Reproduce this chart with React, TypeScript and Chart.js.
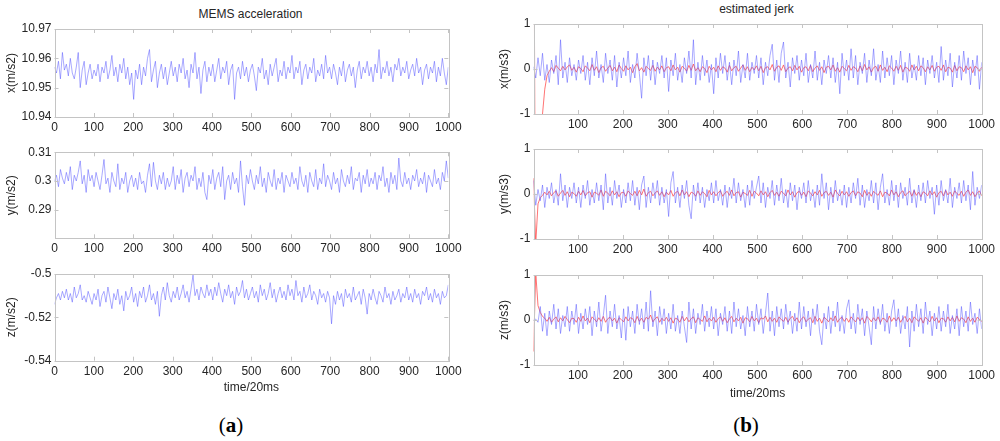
import React, { useEffect, useRef } from "react";
import { Chart, registerables } from "chart.js";
Chart.register(...registerables);

// ---------- data (sampled every ~5 steps of time/20ms) ----------
const accelX = [
  10.957, 10.955, 10.959, 10.953, 10.962, 10.956, 10.958, 10.954, 10.960, 10.955, 10.953, 10.957, 10.962, 10.950, 10.956, 10.959, 10.951, 10.955, 10.958, 10.953,
  10.956, 10.954, 10.958, 10.952, 10.957, 10.955, 10.959, 10.953, 10.956, 10.961, 10.954, 10.957, 10.952, 10.958, 10.955, 10.960, 10.953, 10.957, 10.951, 10.955,
  10.946, 10.956, 10.953, 10.958, 10.951, 10.957, 10.954, 10.960, 10.963, 10.952, 10.956, 10.959, 10.950, 10.955, 10.958, 10.953, 10.957, 10.951, 10.955, 10.959,
  10.954, 10.957, 10.952, 10.958, 10.955, 10.960, 10.953, 10.956, 10.950, 10.958, 10.955, 10.962, 10.953, 10.957, 10.948, 10.956, 10.959, 10.952, 10.957, 10.954,
  10.958, 10.952, 10.956, 10.960, 10.953, 10.957, 10.955, 10.959, 10.951, 10.956, 10.958, 10.946, 10.955, 10.957, 10.953, 10.959, 10.954, 10.957, 10.952, 10.956,
  10.958, 10.954, 10.949, 10.957, 10.955, 10.960, 10.953, 10.956, 10.951, 10.958, 10.954, 10.957, 10.960, 10.952, 10.956, 10.954, 10.959, 10.953, 10.957, 10.955,
  10.961, 10.953, 10.957, 10.955, 10.959, 10.951, 10.956, 10.958, 10.953, 10.957, 10.955, 10.960, 10.952, 10.956, 10.954, 10.958, 10.953, 10.961, 10.955, 10.957,
  10.953, 10.958, 10.955, 10.951, 10.957, 10.954, 10.959, 10.952, 10.956, 10.958, 10.954, 10.957, 10.950, 10.956, 10.959, 10.953, 10.957, 10.955, 10.959, 10.954,
  10.957, 10.952, 10.958, 10.955, 10.963, 10.953, 10.957, 10.955, 10.959, 10.954, 10.957, 10.952, 10.958, 10.956, 10.960, 10.954, 10.957, 10.955, 10.959, 10.953,
  10.956, 10.958, 10.954, 10.960, 10.955, 10.957, 10.951, 10.956, 10.958, 10.953, 10.957, 10.955, 10.959, 10.952, 10.957, 10.954, 10.960, 10.955, 10.951, 10.957,
];
const accelY = [
  0.300, 0.302, 0.298, 0.304, 0.301, 0.299, 0.303, 0.300, 0.305, 0.297, 0.302, 0.300, 0.303, 0.307, 0.299, 0.302, 0.296, 0.304, 0.300, 0.302,
  0.298, 0.303, 0.300, 0.297, 0.302, 0.3075, 0.299, 0.301, 0.296, 0.303, 0.300, 0.298, 0.306, 0.297, 0.301, 0.299, 0.303, 0.296, 0.300, 0.302,
  0.298, 0.301, 0.297, 0.303, 0.299, 0.300, 0.296, 0.302, 0.306, 0.298, 0.3065, 0.300, 0.297, 0.302, 0.299, 0.303, 0.297, 0.301, 0.298, 0.300,
  0.305, 0.297, 0.302, 0.299, 0.304, 0.296, 0.301, 0.303, 0.298, 0.302, 0.300, 0.305, 0.297, 0.301, 0.298, 0.303, 0.296, 0.2935, 0.302, 0.299,
  0.304, 0.297, 0.301, 0.303, 0.298, 0.305, 0.2935, 0.300, 0.302, 0.297, 0.303, 0.299, 0.301, 0.296, 0.307, 0.298, 0.2915, 0.302, 0.299, 0.304,
  0.300, 0.297, 0.302, 0.299, 0.305, 0.298, 0.301, 0.296, 0.303, 0.300, 0.298, 0.304, 0.297, 0.301, 0.299, 0.303, 0.296, 0.302, 0.300, 0.298,
  0.303, 0.299, 0.301, 0.297, 0.305, 0.300, 0.298, 0.302, 0.296, 0.303, 0.300, 0.298, 0.304, 0.297, 0.301, 0.299, 0.306, 0.298, 0.302, 0.300,
  0.297, 0.303, 0.299, 0.301, 0.296, 0.304, 0.300, 0.298, 0.302, 0.299, 0.305, 0.297, 0.301, 0.300, 0.303, 0.296, 0.302, 0.299, 0.304, 0.298,
  0.301, 0.299, 0.303, 0.297, 0.302, 0.300, 0.305, 0.298, 0.301, 0.296, 0.303, 0.299, 0.302, 0.297, 0.308, 0.300, 0.298, 0.303, 0.299, 0.301,
  0.297, 0.302, 0.300, 0.304, 0.298, 0.301, 0.299, 0.303, 0.296, 0.302, 0.300, 0.298, 0.304, 0.299, 0.301, 0.297, 0.303, 0.300, 0.307, 0.301,
];
const accelZ = [
  -0.514, -0.511, -0.509, -0.512, -0.508, -0.511, -0.507, -0.512, -0.509, -0.513, -0.506, -0.511, -0.509, -0.505, -0.512, -0.510, -0.513, -0.508, -0.511, -0.514,
  -0.509, -0.512, -0.507, -0.515, -0.510, -0.508, -0.513, -0.506, -0.511, -0.516, -0.509, -0.512, -0.507, -0.514, -0.510, -0.517, -0.508, -0.512, -0.510, -0.506,
  -0.513, -0.509, -0.515, -0.508, -0.511, -0.506, -0.513, -0.510, -0.505, -0.512, -0.509, -0.514, -0.508, -0.5195, -0.510, -0.506, -0.512, -0.504, -0.510, -0.513,
  -0.508, -0.511, -0.506, -0.512, -0.509, -0.505, -0.511, -0.508, -0.513, -0.507, -0.5005, -0.510, -0.507, -0.512, -0.506, -0.509, -0.511, -0.505, -0.510, -0.507,
  -0.512, -0.506, -0.510, -0.504, -0.509, -0.513, -0.507, -0.510, -0.505, -0.511, -0.508, -0.514, -0.506, -0.510, -0.508, -0.503, -0.511, -0.507, -0.512, -0.509,
  -0.506, -0.511, -0.508, -0.513, -0.505, -0.510, -0.507, -0.512, -0.509, -0.504, -0.511, -0.507, -0.513, -0.509, -0.506, -0.511, -0.508, -0.512, -0.505, -0.510,
  -0.507, -0.512, -0.503, -0.510, -0.508, -0.513, -0.506, -0.511, -0.509, -0.505, -0.512, -0.508, -0.510, -0.514, -0.507, -0.511, -0.509, -0.513, -0.508, -0.511,
  -0.523, -0.510, -0.514, -0.508, -0.512, -0.509, -0.515, -0.507, -0.511, -0.509, -0.513, -0.506, -0.512, -0.510, -0.508, -0.514, -0.507, -0.511, -0.5185, -0.509,
  -0.512, -0.507, -0.511, -0.514, -0.508, -0.510, -0.513, -0.506, -0.511, -0.509, -0.514, -0.508, -0.512, -0.510, -0.507, -0.513, -0.509, -0.511, -0.506, -0.512,
  -0.509, -0.513, -0.507, -0.511, -0.509, -0.514, -0.508, -0.510, -0.506, -0.512, -0.509, -0.513, -0.507, -0.511, -0.509, -0.514, -0.508, -0.511, -0.510, -0.505,
];
const jerkXBlue = [
  0.05, -0.20, 0.25, -0.15, 0.35, -0.25, 0.10, -0.30, 0.20, -0.10, 0.30, -0.35, 0.65, -0.20, 0.15, -0.30, 0.25, -0.15, 0.10, -0.25,
  0.20, -0.10, 0.30, -0.25, 0.15, -0.35, 0.25, -0.15, 0.40, -0.20, 0.10, -0.30, 0.35, -0.10, 0.20, -0.25, 0.30, -0.40, 0.15, -0.20,
  0.25, -0.15, 0.40, -0.30, 0.10, -0.20, 0.35, -0.10, -0.65, 0.25, -0.15, 0.30, -0.25, 0.20, -0.35, 0.15, -0.10, 0.30, -0.20, 0.25,
  -0.50, 0.20, -0.15, 0.35, -0.25, 0.10, -0.30, 0.25, -0.10, 0.40, -0.20, 0.65, -0.35, 0.15, -0.25, 0.30, -0.15, 0.20, -0.30, 0.10,
  -0.55, 0.25, -0.20, 0.35, -0.10, 0.30, -0.25, 0.15, -0.35, 0.20, -0.15, 0.40, -0.30, 0.10, -0.20, 0.35, -0.25, 0.15, -0.10, 0.30,
  -0.20, 0.25, -0.35, 0.15, -0.15, 0.30, 0.55, -0.25, 0.20, -0.30, 0.35, 0.60, -0.20, 0.15, -0.40, 0.25, -0.10, 0.30, -0.25, 0.20,
  -0.15, 0.35, -0.30, 0.10, -0.20, 0.40, -0.25, 0.15, -0.35, 0.20, -0.10, 0.30, -0.20, 0.25, -0.30, 0.15, -0.55, 0.35, -0.15, 0.20,
  -0.25, 0.45, -0.20, 0.30, -0.35, 0.15, -0.10, 0.35, -0.30, 0.20, -0.15, 0.45, -0.25, 0.10, -0.30, 0.40, -0.20, 0.25, -0.15, 0.30,
  -0.35, 0.20, -0.10, 0.40, -0.25, 0.15, -0.30, 0.35, -0.20, 0.10, -0.25, 0.30, -0.15, 0.25, -0.35, 0.20, -0.10, 0.30, -0.20, 0.15,
  -0.30, 0.50, -0.25, 0.20, -0.15, 0.35, -0.40, 0.15, -0.20, 0.30, -0.25, 0.40, -0.10, 0.25, -0.35, 0.20, -0.15, 0.30, -0.45, 0.15,
];
const jerkXRed = [
  6, -6, -4, -2, -1.0, -0.45, -0.15, -0.05, 0.03, -0.06, 0.08, 0.02, -0.04, 0.06, -0.02, 0.05, 0.09, -0.03, 0.04, -0.07,
  0.05, 0.01, -0.06, 0.07, 0.02, -0.04, 0.10, -0.03, 0.05, -0.08, 0.03, 0.06, -0.05, 0.02, 0.08, -0.04, 0.04, -0.06, 0.09, 0.01,
  -0.05, 0.07, -0.02, 0.04, -0.08, 0.05, 0.12, -0.04, 0.03, -0.07, 0.06, 0.01, -0.03, 0.08, -0.05, 0.04, -0.02, 0.07, -0.06, 0.03,
  0.05, -0.04, 0.09, -0.02, 0.04, -0.07, 0.06, 0.02, -0.05, 0.08, -0.03, 0.11, -0.04, 0.03, -0.06, 0.05, 0.01, -0.08, 0.06, -0.02,
  0.04, -0.06, 0.07, -0.03, 0.05, 0.02, -0.07, 0.08, -0.04, 0.03, 0.06, -0.05, 0.02, 0.09, -0.03, 0.05, -0.06, 0.04, -0.02, 0.07,
  -0.04, 0.06, -0.08, 0.03, 0.05, -0.02, 0.10, -0.05, 0.04, 0.07, -0.03, 0.09, -0.06, 0.02, 0.05, -0.04, 0.08, -0.02, 0.06, -0.07,
  0.03, 0.05, -0.04, 0.08, -0.06, 0.02, 0.07, -0.03, 0.05, -0.08, 0.04, 0.06, -0.02, 0.09, -0.05, 0.03, -0.07, 0.06, 0.01, -0.04,
  0.08, -0.03, 0.05, 0.02, -0.06, 0.07, -0.04, 0.10, -0.02, 0.05, -0.07, 0.03, 0.06, -0.05, 0.09, -0.03, 0.04, -0.06, 0.07, 0.02,
  -0.05, 0.06, -0.03, 0.08, -0.07, 0.04, 0.02, -0.05, 0.09, -0.02, 0.06, -0.04, 0.07, 0.03, -0.06, 0.05, -0.02, 0.08, -0.05, 0.04,
  0.06, -0.03, 0.09, -0.06, 0.04, 0.02, -0.07, 0.08, -0.04, 0.05, 0.03, -0.06, 0.07, -0.02, 0.05, -0.08, 0.06, 0.03, -0.05, 0.04,
];
const jerkYBlue = [
  0.30, -0.25, 0.10, -0.15, 0.20, -0.30, 0.15, -0.10, 0.25, -0.20, 0.10, -0.25, 0.45, -0.15, 0.20, -0.30, 0.15, -0.10, 0.25, -0.20,
  0.15, -0.30, 0.20, -0.10, 0.30, -0.25, 0.10, -0.20, 0.25, -0.15, 0.20, -0.35, 0.45, -0.20, 0.15, -0.25, 0.30, -0.10, 0.20, -0.30,
  0.10, -0.20, 0.25, -0.15, 0.30, -0.25, 0.15, -0.35, 0.20, 0.40, -0.30, 0.15, -0.20, 0.25, -0.10, 0.30, -0.25, 0.15, -0.20, 0.10,
  -0.50, 0.25, 0.50, -0.20, 0.15, -0.30, 0.20, -0.10, 0.30, -0.25, -0.55, 0.20, -0.15, 0.25, -0.20, 0.15, -0.30, 0.10, -0.15, 0.25,
  -0.20, 0.30, -0.15, 0.10, -0.25, 0.20, -0.30, 0.15, -0.10, 0.35, -0.20, 0.25, -0.15, 0.10, -0.30, 0.20, -0.25, 0.30, -0.10, 0.15,
  0.40, -0.20, 0.25, -0.30, 0.15, -0.10, 0.30, -0.25, 0.20, -0.15, 0.35, -0.20, 0.10, -0.30, 0.25, -0.15, 0.20, -0.35, 0.15, -0.10,
  0.25, -0.20, 0.30, -0.15, 0.10, -0.30, 0.20, -0.25, 0.45, -0.10, 0.25, -0.35, 0.15, -0.20, 0.30, -0.15, 0.10, -0.25, 0.20, -0.30,
  0.15, -0.20, 0.25, -0.10, 0.35, -0.25, 0.20, -0.30, 0.10, -0.15, 0.30, -0.20, 0.25, -0.35, 0.15, 0.45, -0.20, 0.10, -0.25, 0.30,
  -0.15, 0.20, -0.30, 0.25, -0.10, 0.15, -0.25, 0.35, -0.20, 0.10, -0.30, 0.20, -0.15, 0.25, -0.20, 0.30, -0.10, 0.15, -0.45, 0.20,
  -0.25, 0.30, -0.15, 0.10, -0.20, 0.35, -0.30, 0.15, -0.10, 0.25, -0.20, 0.30, -0.15, 0.20, -0.35, 0.50, -0.25, 0.15, -0.10, 0.20,
];
const jerkYRed = [
  0.35, -1.1, -0.22, -0.08, -0.03, 0.04, -0.02, 0.06, -0.04, 0.03, 0.07, -0.05, 0.02, 0.08, -0.03, 0.05, -0.06, 0.04, 0.01, -0.05,
  0.06, -0.02, 0.08, -0.04, 0.03, 0.05, -0.07, 0.04, 0.02, -0.03, 0.09, -0.05, 0.06, 0.02, -0.04, 0.07, -0.02, 0.05, -0.06, 0.03,
  0.04, -0.05, 0.07, 0.01, -0.03, 0.06, -0.04, 0.08, -0.02, 0.11, -0.05, 0.03, 0.06, -0.04, 0.02, 0.07, -0.03, 0.05, -0.06, 0.04,
  -0.02, 0.08, -0.05, 0.03, 0.06, -0.04, 0.09, -0.02, 0.05, -0.06, 0.04, 0.02, -0.05, 0.07, -0.03, 0.05, 0.01, -0.06, 0.08, -0.02,
  0.05, -0.04, 0.03, 0.07, -0.05, 0.02, 0.06, -0.03, 0.09, -0.04, 0.03, 0.05, -0.07, 0.04, 0.01, -0.03, 0.08, -0.05, 0.06, 0.02,
  -0.04, 0.07, -0.02, 0.05, -0.06, 0.03, 0.08, -0.03, 0.04, -0.05, 0.06, 0.02, -0.04, 0.09, -0.02, 0.05, -0.07, 0.03, 0.06, -0.03,
  0.04, -0.06, 0.07, 0.02, -0.04, 0.05, -0.02, 0.08, -0.05, 0.03, 0.06, -0.03, 0.04, -0.07, 0.09, 0.01, -0.04, 0.06, -0.02, 0.05,
  -0.05, 0.03, 0.07, -0.04, 0.05, 0.02, -0.06, 0.08, -0.03, 0.04, -0.05, 0.06, 0.01, -0.03, 0.07, -0.06, 0.04, 0.02, -0.04, 0.09,
  -0.02, 0.05, -0.06, 0.03, 0.07, -0.04, 0.02, 0.06, -0.05, 0.08, -0.03, 0.04, -0.06, 0.05, 0.02, -0.04, 0.07, -0.02, 0.05, -0.07,
  0.03, 0.06, -0.04, 0.08, -0.02, 0.04, -0.05, 0.07, 0.01, -0.03, 0.06, -0.05, 0.04, 0.09, -0.03, 0.05, -0.06, 0.02, 0.07, -0.04,
];
const jerkZBlue = [
  0.0, 0.02, -0.05, 0.30, -0.25, 0.15, -0.35, 0.20, -0.10, 0.35, -0.20, 0.25, -0.30, 0.10, -0.15, 0.30, -0.25, 0.20, -0.10, 0.35,
  -0.30, 0.15, -0.20, 0.25, -0.10, 0.30, -0.35, 0.20, -0.15, 0.40, -0.25, 0.10, 0.55, -0.30, 0.20, -0.15, 0.35, -0.20, 0.10, -0.40,
  0.25, -0.45, 0.30, -0.15, 0.20, -0.30, 0.35, -0.10, 0.25, -0.20, 0.40, -0.25, 0.65, -0.15, 0.20, -0.35, 0.30, -0.10, 0.25, -0.30,
  0.15, -0.20, 0.35, -0.25, 0.10, -0.30, 0.20, -0.15, -0.50, 0.40, -0.20, 0.25, -0.30, 0.15, -0.10, 0.35, -0.25, 0.20, -0.15, 0.30,
  -0.20, 0.25, -0.35, 0.15, -0.10, 0.30, -0.25, 0.20, -0.30, 0.40, -0.15, 0.25, -0.20, 0.10, -0.35, 0.30, -0.15, 0.20, -0.25, 0.35,
  -0.10, 0.25, -0.30, 0.15, 0.60, -0.25, 0.20, -0.35, 0.30, -0.15, 0.25, -0.20, 0.35, -0.10, 0.20, -0.30, 0.15, -0.25, 0.40, -0.20,
  0.30, -0.15, 0.20, -0.35, 0.25, -0.10, 0.35, -0.25, -0.55, 0.15, -0.20, 0.30, -0.30, 0.20, -0.15, 0.40, -0.25, 0.10, -0.30, 0.25,
  0.45, -0.20, 0.15, -0.30, 0.35, -0.10, 0.25, -0.35, 0.20, -0.15, -0.55, 0.30, -0.20, 0.25, -0.10, 0.35, -0.25, 0.15, -0.30, 0.20,
  0.45, -0.15, 0.25, -0.30, 0.10, -0.20, 0.30, -0.60, 0.20, -0.25, 0.35, -0.15, 0.25, -0.30, 0.40, -0.10, 0.20, -0.35, 0.15, -0.20,
  0.30, -0.25, 0.20, -0.15, 0.35, -0.30, 0.10, -0.20, 0.25, -0.35, 0.30, -0.15, 0.20, -0.25, 0.40, -0.10, 0.15, -0.30, 0.25, -0.20,
];
const jerkZRed = [
  -0.7, 1.05, 0.32, 0.17, 0.08, 0.04, -0.03, 0.06, -0.05, 0.02, 0.07, -0.04, 0.05, -0.02, 0.08, 0.01, -0.06, 0.04, 0.03, -0.05,
  0.06, -0.03, 0.09, -0.02, 0.04, -0.06, 0.07, 0.02, -0.04, 0.05, -0.03, 0.08, -0.05, 0.03, 0.06, -0.02, 0.04, -0.07, 0.05, 0.01,
  -0.04, 0.07, -0.02, 0.05, 0.03, -0.06, 0.08, -0.03, 0.04, -0.05, 0.06, 0.02, 0.11, -0.04, 0.03, 0.07, -0.05, 0.04, -0.02, 0.06,
  -0.03, 0.05, -0.07, 0.04, 0.02, -0.05, 0.08, -0.02, 0.06, -0.04, 0.03, 0.07, -0.06, 0.05, 0.01, -0.03, 0.09, -0.04, 0.04, -0.02,
  0.06, -0.05, 0.03, 0.07, -0.03, 0.05, -0.06, 0.02, 0.08, -0.04, 0.04, -0.02, 0.06, -0.07, 0.05, 0.03, -0.04, 0.08, -0.02, 0.04,
  -0.06, 0.05, 0.02, 0.09, -0.04, 0.06, -0.03, 0.04, -0.05, 0.07, 0.01, -0.03, 0.06, -0.05, 0.04, 0.08, -0.02, 0.05, -0.06, 0.03,
  0.07, -0.04, 0.02, 0.05, -0.06, 0.08, -0.03, 0.04, -0.07, 0.06, 0.02, -0.04, 0.05, -0.02, 0.09, -0.05, 0.03, 0.06, -0.03, 0.04,
  -0.05, 0.07, 0.01, -0.04, 0.06, -0.02, 0.05, -0.07, 0.08, 0.03, -0.04, 0.05, -0.02, 0.07, -0.06, 0.04, 0.02, -0.05, 0.09, -0.03,
  0.05, -0.02, 0.06, -0.05, 0.03, 0.08, -0.04, 0.04, -0.06, 0.07, 0.02, -0.03, 0.05, -0.07, 0.06, 0.01, -0.04, 0.08, -0.02, 0.05,
  -0.06, 0.04, 0.03, -0.05, 0.07, -0.02, 0.06, -0.04, 0.09, -0.03, 0.05, 0.02, -0.06, 0.07, -0.03, 0.04, -0.05, 0.06, 0.02, -0.04,
];

// ---------- tick labels ----------
const accelTimeTicks = [0, 100, 200, 300, 400, 500, 600, 700, 800, 900, 1000];
const jerkTimeTicks = [100, 200, 300, 400, 500, 600, 700, 800, 900, 1000];
const accelXTicks = [10.94, 10.95, 10.96, 10.97];
const accelYTicks = [0.29, 0.3, 0.31];
const accelZTicks = [-0.54, -0.52, -0.5];
const jerkTicks = [-1, 0, 1];

const FONT = "'Liberation Sans', Arial, Helvetica, sans-serif";
const TEXT = "#262626";
const FRAME = "#c4c4c4";
const BLUE = "rgba(85,85,255,0.72)";
const RED = "rgba(255,70,70,0.75)";

type Series = { values: number[]; color: string; width: number };
type Panel = {
  key: string;
  canvasLeft: number; canvasTop: number; canvasW: number; canvasH: number;
  plotLeft: number; plotTop: number; plotRight: number; plotBottom: number;
  tStart: number; tEnd: number;
  xMin: number; xMax: number; xTicks: number[];
  yMin: number; yMax: number; yTicks: number[];
  yTitle: string; xTitle?: string;
  series: Series[];
};

const framePlugin = {
  id: "matlabFrame",
  afterDatasetsDraw(chart: any) {
    const { ctx, chartArea: a, scales } = chart;
    const xs = scales.x, ys = scales.y;
    const L = 4;
    ctx.save();
    ctx.strokeStyle = FRAME;
    ctx.lineWidth = 1;
    ctx.beginPath();
    xs.ticks.forEach((t: any) => {
      const p = Math.round(xs.getPixelForValue(t.value)) + 0.5;
      ctx.moveTo(p, a.bottom); ctx.lineTo(p, a.bottom - L);
      ctx.moveTo(p, a.top); ctx.lineTo(p, a.top + L);
    });
    ys.ticks.forEach((t: any) => {
      const p = Math.round(ys.getPixelForValue(t.value)) + 0.5;
      ctx.moveTo(a.left, p); ctx.lineTo(a.left + L, p);
      ctx.moveTo(a.right, p); ctx.lineTo(a.right - L, p);
    });
    ctx.stroke();
    ctx.strokeRect(Math.round(a.left) + 0.5, Math.round(a.top) + 0.5, Math.round(a.right - a.left), Math.round(a.bottom - a.top));
    ctx.restore();
  },
};

function toPoints(values: number[], t0: number, t1: number) {
  const n = values.length;
  return values.map((v, i) => ({ x: t0 + (i * (t1 - t0)) / (n - 1), y: v }));
}

function PanelChart({ p }: { p: Panel }) {
  const ref = useRef<HTMLCanvasElement>(null);
  useEffect(() => {
    const yW = p.plotLeft - p.canvasLeft;
    const xH = p.canvasTop + p.canvasH - p.plotBottom;
    const chart = new Chart(ref.current!, {
      type: "line",
      data: {
        datasets: p.series.map((s) => ({
          data: toPoints(s.values, p.tStart, p.tEnd),
          borderColor: s.color,
          borderWidth: s.width,
          pointRadius: 0,
          tension: 0,
          fill: false,
        })),
      },
      options: {
        animation: false,
        responsive: false,
        maintainAspectRatio: false,
        parsing: false as any,
        events: [],
        layout: {
          padding: {
            left: 0,
            top: p.plotTop - p.canvasTop,
            right: p.canvasLeft + p.canvasW - p.plotRight,
            bottom: 0,
          },
        },
        plugins: { legend: { display: false }, tooltip: { enabled: false }, title: { display: false } },
        scales: {
          x: {
            type: "linear",
            min: p.xMin,
            max: p.xMax,
            grid: { display: false, drawTicks: false },
            border: { display: false },
            afterBuildTicks: (sc: any) => { sc.ticks = p.xTicks.map((v) => ({ value: v })); },
            afterFit: (sc: any) => { sc.height = xH; },
            ticks: {
              autoSkip: false, maxRotation: 0, padding: 3.5, color: TEXT,
              font: { family: FONT, size: 12 },
              callback: (v: any) => String(v),
            },
            title: {
              display: !!p.xTitle, text: p.xTitle || "", color: TEXT,
              font: { family: FONT, size: 12 }, padding: { top: 4, bottom: 4 },
            },
          },
          y: {
            type: "linear",
            min: p.yMin,
            max: p.yMax,
            grid: { display: false, drawTicks: false },
            border: { display: false },
            afterBuildTicks: (sc: any) => { sc.ticks = p.yTicks.map((v) => ({ value: v })); },
            afterFit: (sc: any) => { sc.width = yW; },
            ticks: {
              padding: 3, color: TEXT,
              font: { family: FONT, size: 12 },
              callback: (v: any) => String(v),
            },
            title: {
              display: true, text: p.yTitle, color: TEXT,
              font: { family: FONT, size: 12 }, padding: { top: 4, bottom: 4 },
            },
          },
        },
      },
      plugins: [framePlugin],
    } as any);
    return () => chart.destroy();
  }, [p]);
  return (
    <canvas
      ref={ref}
      width={p.canvasW}
      height={p.canvasH}
      style={{ position: "absolute", left: p.canvasLeft, top: p.canvasTop, width: p.canvasW, height: p.canvasH }}
    />
  );
}

const L = { canvasLeft: 0, canvasW: 470, plotLeft: 54.5, plotRight: 448.3, tStart: 0, tEnd: 1000, xMin: 0, xMax: 1000, xTicks: accelTimeTicks };
const R = { canvasLeft: 493, canvasW: 507, plotLeft: 533.5, plotRight: 981.7, tStart: 1, tEnd: 1000, xMin: 1, xMax: 1000, xTicks: jerkTimeTicks, yMin: -1, yMax: 1, yTicks: jerkTicks };

const panels: Panel[] = [
  { key: "ax", ...L, canvasTop: 17, canvasH: 130, plotTop: 29, plotBottom: 117, yMin: 10.94, yMax: 10.97, yTicks: accelXTicks, yTitle: "x(m/s2)",
    series: [{ values: accelX, color: BLUE, width: 0.7 }] },
  { key: "ay", ...L, canvasTop: 140, canvasH: 129, plotTop: 152.3, plotBottom: 238.3, yMin: 0.28, yMax: 0.31, yTicks: accelYTicks, yTitle: "y(m/s2)",
    series: [{ values: accelY, color: BLUE, width: 0.7 }] },
  { key: "az", ...L, canvasTop: 262, canvasH: 137, plotTop: 274, plotBottom: 360.7, yMin: -0.54, yMax: -0.5, yTicks: accelZTicks, yTitle: "z(m/s2)", xTitle: "time/20ms",
    series: [{ values: accelZ, color: BLUE, width: 0.7 }] },
  { key: "jx", ...R, canvasTop: 12, canvasH: 132, plotTop: 24, plotBottom: 114, yTitle: "x(m/s3)",
    series: [{ values: jerkXBlue, color: BLUE, width: 0.7 }, { values: jerkXRed, color: RED, width: 1 }] },
  { key: "jy", ...R, canvasTop: 137, canvasH: 132, plotTop: 149, plotBottom: 239, yTitle: "y(m/s3)",
    series: [{ values: jerkYBlue, color: BLUE, width: 0.7 }, { values: jerkYRed, color: RED, width: 1 }] },
  { key: "jz", ...R, canvasTop: 263, canvasH: 142, plotTop: 275, plotBottom: 365, yTitle: "z(m/s3)", xTitle: "time/20ms",
    series: [{ values: jerkZBlue, color: BLUE, width: 0.7 }, { values: jerkZRed, color: RED, width: 1 }] },
];

const centered = (x: number, y: number): React.CSSProperties => ({
  position: "absolute", left: x, top: y, transform: "translate(-50%, -50%)", whiteSpace: "nowrap",
});

export default function App() {
  return (
    <div style={{ position: "absolute", left: 0, top: 0, width: 1000, height: 441, background: "#fff", overflow: "hidden" }}>
      <div style={{ ...centered(250.5, 14), font: `12px ${FONT}`, color: TEXT }}>MEMS acceleration</div>
      <div style={{ ...centered(756.5, 9), font: `12px ${FONT}`, color: TEXT }}>estimated jerk</div>
      {panels.map((p) => <PanelChart key={p.key} p={p} />)}
      <div style={{ ...centered(231, 425), font: `21px 'Liberation Serif', 'Times New Roman', serif`, color: "#000" }}>
        (<b>a</b>)
      </div>
      <div style={{ ...centered(746, 425), font: `21px 'Liberation Serif', 'Times New Roman', serif`, color: "#000" }}>
        (<b>b</b>)
      </div>
    </div>
  );
}
